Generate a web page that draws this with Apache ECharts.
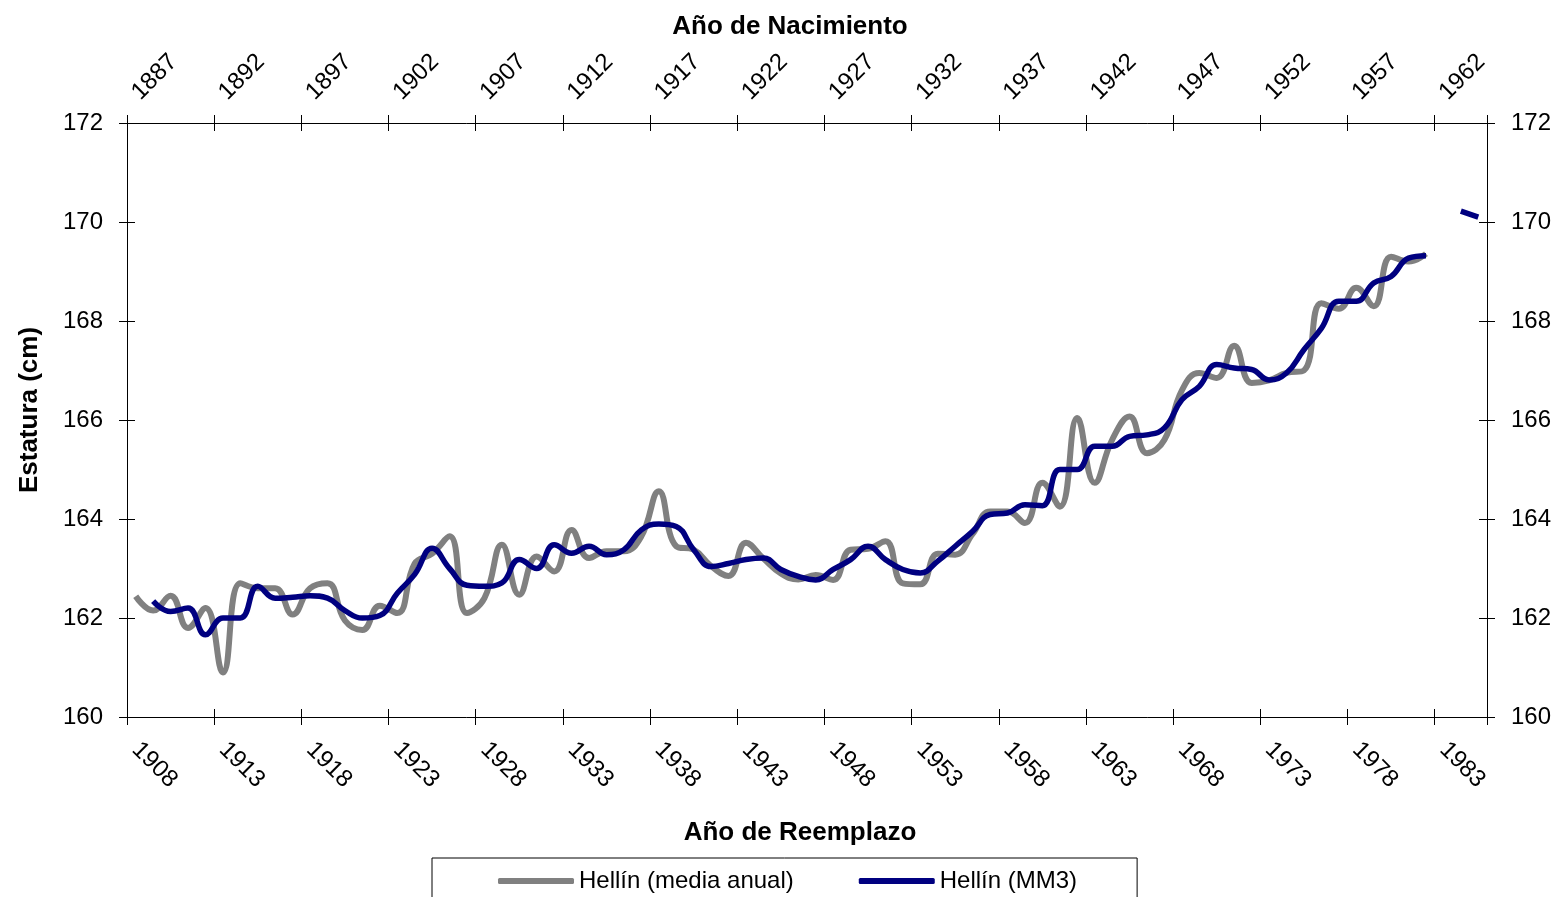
<!DOCTYPE html>
<html>
<head>
<meta charset="utf-8">
<script src="https://cdn.jsdelivr.net/npm/echarts@6/dist/echarts.min.js"></script>
<style>
html,body{margin:0;padding:0;background:#fff;}
#chart{width:1561px;height:897px;}
</style>
</head>
<body>
<div id="chart"></div>
<script>
// Año de Reemplazo (categories)
const years = [1908,1909,1910,1911,1912,1913,1914,1915,1916,1917,1918,1919,1920,1921,1922,1923,1924,1925,1926,1927,
1928,1929,1930,1931,1932,1933,1934,1935,1936,1937,1938,1939,1940,1941,1942,1943,1944,1945,1946,1947,
1948,1949,1950,1951,1952,1953,1954,1955,1956,1957,1958,1959,1960,1961,1962,1963,1964,1965,1966,1967,
1968,1969,1970,1971,1972,1973,1974,1975,1976,1977,1978,1979,1980,1981,1982,1983,1984,1985];
// Año de Nacimiento (top axis labels)
const birthYears = [1887,1888,1889,1890,1891,1892,1893,1894,1895,1896,1897,1898,1899,1900,1901,1902,1903,1904,1905,1906,
1907,1908,1909,1910,1911,1912,1913,1914,1915,1916,1917,1918,1919,1920,1921,1922,1923,1924,1925,1926,
1927,1928,1929,1930,1931,1932,1933,1934,1935,1936,1937,1938,1939,1940,1941,1942,1943,1944,1945,1946,
1947,1948,1949,1950,1951,1952,1953,1954,1955,1956,1957,1958,1959,1960,1961,1962,1963,1964];
// Hellín (media anual)
const mediaAnual = [162.44,162.15,162.45,161.80,162.20,160.90,162.70,162.60,162.60,162.07,
162.60,162.70,161.95,161.76,162.25,162.10,163.10,163.30,163.65,162.10,
162.40,163.48,162.47,163.24,162.94,163.78,163.21,163.35,163.35,163.65,
164.56,163.45,163.38,163.05,162.85,163.52,163.20,162.90,162.78,162.87,
162.77,163.38,163.40,163.55,162.70,162.68,163.30,163.28,163.70,164.15,
164.15,163.92,164.73,164.25,166.04,164.73,165.60,166.07,165.33,165.60,
166.60,166.95,166.85,167.50,166.75,166.80,166.95,167.00,168.36,168.25,
168.67,168.30,169.30,169.20,169.36,null,null,null];
// Hellín (MM3)
const mm3 = [null,162.34,162.13,162.20,161.66,162.00,162.00,162.64,162.40,162.42,
162.45,162.40,162.15,162.00,162.05,162.50,162.88,163.41,163.00,162.66,
162.64,162.71,163.18,163.00,163.48,163.31,163.45,163.28,163.38,163.78,
163.90,163.85,163.38,163.04,163.10,163.18,163.21,162.98,162.84,162.77,
162.98,163.18,163.45,163.18,162.98,162.91,163.15,163.45,163.75,164.09,
164.12,164.29,164.27,165.00,165.00,165.47,165.47,165.67,165.70,165.84,
166.41,166.68,167.12,167.05,167.02,166.81,166.95,167.42,167.85,168.40,
168.40,168.77,168.90,169.27,169.32,null,170.22,170.10];

const FONT = '"Liberation Sans", Arial, sans-serif';
const chart = echarts.init(document.getElementById('chart'), null, {renderer: 'canvas'});

const yBase = {type:'value', min:160, max:172, interval:2, splitLine:{show:false}};
const lineCol = '#000';
const labelStyle = {fontFamily: FONT, fontSize: 24, color: '#000'};

chart.setOption({
  backgroundColor: '#fff',
  animation: false,
  grid: {left: 127, right: 74, top: 123, bottom: 180, containLabel: false},
  xAxis: [
    {type:'category', data: years, position:'bottom', boundaryGap:true,
     axisLine:{show:true, lineStyle:{color:lineCol, width:1}},
     axisTick:{show:true, interval:4, length:8, lineStyle:{color:lineCol}},
     axisLabel:{interval:4, rotate:-45, margin:29, ...labelStyle},
     splitLine:{show:false}},
    {type:'category', data: birthYears, position:'top', boundaryGap:true,
     axisLine:{show:true, lineStyle:{color:lineCol, width:1}},
     axisTick:{show:true, interval:4, length:8, lineStyle:{color:lineCol}},
     axisLabel:{interval:4, rotate:-45, margin:27, ...labelStyle},
     splitLine:{show:false}},
    {type:'category', data: years, position:'bottom', boundaryGap:true,
     axisLine:{show:false}, axisTick:{show:true, inside:true, interval:4, length:8, lineStyle:{color:lineCol}},
     axisLabel:{show:false}, splitLine:{show:false}},
    {type:'category', data: birthYears, position:'top', boundaryGap:true,
     axisLine:{show:false}, axisTick:{show:true, inside:true, interval:4, length:8, lineStyle:{color:lineCol}},
     axisLabel:{show:false}, splitLine:{show:false}}
  ],
  yAxis: [
    {...yBase, position:'left',
     axisLine:{show:true, lineStyle:{color:lineCol, width:1}},
     axisTick:{show:true, length:8, lineStyle:{color:lineCol}},
     axisLabel:{margin:24, ...labelStyle}},
    {...yBase, position:'right',
     axisLine:{show:true, lineStyle:{color:lineCol, width:1}},
     axisTick:{show:true, length:8, lineStyle:{color:lineCol}},
     axisLabel:{margin:24, ...labelStyle}},
    {...yBase, position:'left', axisLine:{show:false},
     axisTick:{show:true, inside:true, length:8, lineStyle:{color:lineCol}}, axisLabel:{show:false}},
    {...yBase, position:'right', axisLine:{show:false},
     axisTick:{show:true, inside:true, length:8, lineStyle:{color:lineCol}}, axisLabel:{show:false}}
  ],
  legend: {
    left: 432, top: 858,
    padding: [11, 60, 40, 66],
    borderColor: '#000', borderWidth: 1,
    itemGap: 65, itemWidth: 76, itemHeight: 6,
    icon: 'roundRect',
    textStyle: {fontFamily: FONT, fontSize: 24, color: '#000'},
    data: ['Hellín (media anual)', 'Hellín (MM3)']
  },
  graphic: [
    {type:'text', x: 790, y: 27, style:{text:'Año de Nacimiento', font:'bold 26px ' + FONT, fill:'#000', textAlign:'center', textVerticalAlign:'middle'}},
    {type:'text', x: 800, y: 833, style:{text:'Año de Reemplazo', font:'bold 26px ' + FONT, fill:'#000', textAlign:'center', textVerticalAlign:'middle'}},
    {type:'text', x: 30, y: 410, rotation: Math.PI/2, style:{text:'Estatura (cm)', font:'bold 26px ' + FONT, fill:'#000', textAlign:'center', textVerticalAlign:'middle'}}
  ],
  series: [
    {name:'Hellín (media anual)', type:'line', data: mediaAnual, xAxisIndex:0, yAxisIndex:0,
     smooth: 0.45, symbol:'none', connectNulls:false,
     lineStyle:{color:'#808080', width:6}, itemStyle:{color:'#808080'}},
    {name:'Hellín (MM3)', type:'line', data: mm3, xAxisIndex:0, yAxisIndex:0,
     smooth: 0.45, symbol:'none', connectNulls:false,
     lineStyle:{color:'#000080', width:5.5}, itemStyle:{color:'#000080'}}
  ]
});
</script>
</body>
</html>
